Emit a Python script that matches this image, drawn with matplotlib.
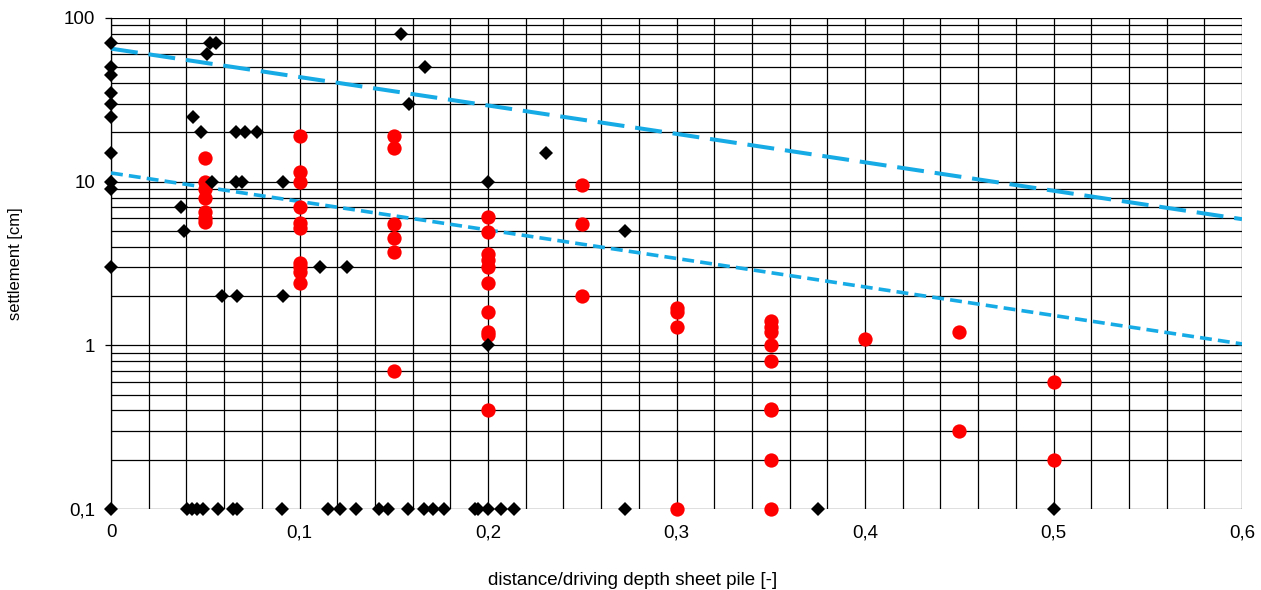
import matplotlib.pyplot as plt
from matplotlib.ticker import FixedLocator, FixedFormatter, NullFormatter

plt.rcParams['font.family'] = ['Liberation Sans', 'DejaVu Sans']

# black diamonds (measured data)
black_x = [0, 0, 0, 0, 0, 0, 0, 0, 0, 0, 0,
           0.051, 0.0525, 0.0557, 0.154, 0.158, 0.1666, 0.0433,
           0.0476, 0.0663, 0.0713, 0.0773,
           0.0534, 0.0663, 0.0693, 0.091,
           0.037, 0.0387, 0.111, 0.125,
           0.059, 0.0667, 0.091,
           0.2306, 0.2, 0.2727, 0.2,
           0.0401, 0.043, 0.0458, 0.0486, 0.0569, 0.0649, 0.0667, 0.0909,
           0.115, 0.1215, 0.130, 0.1422, 0.1468, 0.1575, 0.1662, 0.171,
           0.1768, 0.1931, 0.1945, 0.2, 0.2069, 0.214, 0.2727, 0.375, 0.5]
black_y = [70, 50, 45, 35, 30, 25, 15, 10, 9, 3, 0.1,
           60, 70, 70, 80, 30, 50, 25,
           20, 20, 20, 20,
           10, 10, 10, 10,
           7, 5, 3, 3,
           2, 2, 2,
           15, 10, 5, 1,
           0.1, 0.1, 0.1, 0.1, 0.1, 0.1, 0.1, 0.1,
           0.1, 0.1, 0.1, 0.1, 0.1, 0.1, 0.1, 0.1,
           0.1, 0.1, 0.1, 0.1, 0.1, 0.1, 0.1, 0.1, 0.1]

# red circles
red_x = [0.05] * 7 + [0.1] * 10 + [0.15] * 6 + [0.2] * 10 + [0.25] * 3 \
    + [0.3] * 4 + [0.35] * 9 + [0.4] + [0.45] * 2 + [0.5] * 2
red_y = [14, 10, 9, 8, 6.5, 6, 5.7,
         19, 11.5, 10, 7, 5.6, 5.2, 3.2, 3.0, 2.8, 2.4,
         19, 16, 5.5, 4.5, 3.7, 0.7,
         6.1, 4.9, 3.6, 3.3, 3.0, 2.4, 1.6, 1.2, 1.15, 0.4,
         9.5, 5.5, 2.0,
         1.7, 1.6, 1.3, 0.1,
         1.4, 1.3, 1.2, 1.0, 0.8, 0.4, 0.41, 0.2, 0.1,
         1.1,
         1.2, 0.3,
         0.6, 0.2]

# envelope lines
upper_x = [0, 0.6]
upper_y = [65, 5.9]
lower_x = [0, 0.6]
lower_y = [11.3, 1.02]

xticks = [0, 0.1, 0.2, 0.3, 0.4, 0.5, 0.6]
xtick_labels = ['0', '0,1', '0,2', '0,3', '0,4', '0,5', '0,6']
yticks = [0.1, 1, 10, 100]
ytick_labels = ['0,1', '1', '10', '100']

fig = plt.figure(figsize=(12.61, 5.90), dpi=100)
ax = fig.add_subplot(111)
fig.subplots_adjust(left=111 / 1261, right=1242 / 1261, top=1 - 18 / 590, bottom=1 - 509 / 590)

ax.set_yscale('log')
ax.set_xlim(0, 0.6)
ax.set_ylim(0.1, 100)

# grid: every 0.02 in x, 1..9 per decade in y
ax.xaxis.set_minor_locator(FixedLocator([i * 0.02 for i in range(31)]))
ax.yaxis.set_minor_locator(FixedLocator([m * 10.0 ** e for e in range(-1, 2) for m in range(2, 10)]))
ax.yaxis.set_minor_formatter(NullFormatter())
ax.grid(True, which='both', color='black', linewidth=0.9)
ax.set_axisbelow(True)

ax.plot(upper_x, upper_y, color='#17ABE6', linewidth=2.9, dashes=(6.7, 2.7), zorder=3)
ax.plot(lower_x, lower_y, color='#17ABE6', linewidth=2.6, dashes=(3.3, 1.7), zorder=3)
ax.plot(red_x, red_y, 'o', color='#FF0000', markersize=10.3, markeredgewidth=0,
        clip_on=False, zorder=4)
ax.plot(black_x, black_y, 'D', color='black', markersize=7, markeredgewidth=0,
        clip_on=False, zorder=5)

ax.xaxis.set_major_locator(FixedLocator(xticks))
ax.xaxis.set_major_formatter(FixedFormatter(xtick_labels))
ax.yaxis.set_major_locator(FixedLocator(yticks))
ax.yaxis.set_major_formatter(FixedFormatter(ytick_labels))

ax.tick_params(axis='x', which='both', length=0, pad=11, labelsize=13.5)
ax.tick_params(axis='y', which='major', length=4.5, width=0.9, pad=7, labelsize=13.5)
ax.tick_params(axis='y', which='minor', length=0)

for s in ['top', 'right', 'bottom']:
    ax.spines[s].set_visible(False)
ax.spines['left'].set_linewidth(0.9)

ax.set_xlabel('distance/driving depth sheet pile [-]', fontsize=13.5)
ax.xaxis.set_label_coords(0.4615, -0.128)
ax.set_ylabel('settlement [cm]', fontsize=12)
ax.yaxis.set_label_coords(-0.0774, 0.5)

plt.savefig('out.png', dpi=100)
